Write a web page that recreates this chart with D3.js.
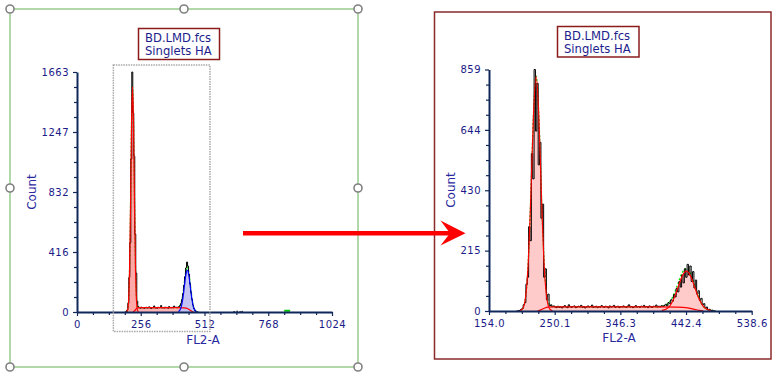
<!DOCTYPE html>
<html><head><meta charset="utf-8">
<script src="https://cdn.jsdelivr.net/npm/d3@7"></script>
<style>
html,body{margin:0;padding:0;background:#fff;}
svg{display:block;}
text{font-family:"DejaVu Sans",Verdana,sans-serif;}
</style></head>
<body>
<svg id="chart" width="781" height="379"></svg>
<script>
// ---------------- DATA ----------------
const titleLines = ["BD.LMD.fcs", "Singlets HA"];
const xTitle = "FL2-A";
const yTitle = "Count";

// Left panel (full range, 4-channel bins)
const leftXDomain = [0, 1024];
const leftYDomain = [0, 1663];
const leftXTicks = [0, 256, 512, 768, 1024];
const leftXLabels = ["0", "256", "512", "768", "1024"];
const leftYTicks = [0, 415.75, 831.5, 1247.25, 1663];
const leftYLabels = ["0", "416", "832", "1247", "1663"];
const leftBinStart = 192, leftBinWidth = 4;
const leftCounts = [0,3,14,60,240,480,1060,1663,1380,1080,540,270,75,38,
  30,26,34,28,31,25,29,33,27,30,36,28,24,31,29,42,27,30,26,33,29,31,45,28,30,27,34,29,32,26,38,30,28,33,29,41,31,34,30,33,
  38,44,60,88,128,185,245,305,346,318,262,195,135,88,48,24,12,5,2,0];
const debrisChannel = [628, 640, 652, 660];
const debrisCount = [7, 9, 6, 8];
const debrisFitChannel = [832, 840, 848, 856];
const debrisFitCount = [8, 9, 9, 8];
// left fitted components (channel, count)
const leftG1X = [199,203,207,211,215,219,223,227,231,235,239,243,247];
const leftG1Y = [2,12,75,290,740,1300,1560,1300,740,290,75,12,2];
const leftSX = [225,232,240,250,300,350,400,430,445,455,462,468];
const leftSY = [0,10,26,30,30,30,30,28,22,12,4,0];
const leftG2X = [407,413,419,425,431,437,443,449,455,461,467,473,479];
const leftG2Y = [3,13,39,94,176,256,290,256,176,94,39,13,3];
const leftTotX = [199,203,207,211,215,219,223,227,231,235,239,243,247,260,300,350,400,407,413,419,425,431,437,443,449,455,461,467,473,479,485];
const leftTotY = [2,12,75,290,740,1300,1560,1302,750,304,99,40,30,30,30,30,31,33,43,68,122,204,282,312,274,188,100,40,13,3,0];

// Right panel (zoomed range, 2-channel bins)
const rightXDomain = [154.0, 538.6];
const rightYDomain = [0, 859];
const rightXTicks = [154.0, 250.15, 346.3, 442.45, 538.6];
const rightXLabels = ["154.0", "250.1", "346.3", "442.4", "538.6"];
const rightYTicks = [0, 214.75, 429.5, 644.25, 859];
const rightYLabels = ["0", "215", "430", "644", "859"];
const rightBinStart = 194, rightBinWidth = 2;
const rightCounts = [0,1,2,5,9,
  22,30,95,120,300,250,560,470,859,640,810,520,600,330,380,120,150,40,60,18,22,
  16,18,14,12,
  17,13,15,11,16,19,14,12,22,15,13,16,18,12,14,17,15,20,13,16,11,15,18,14,16,21,13,15,17,12,16,14,19,15,13,17,15,11,18,14,
  16,20,13,15,17,12,16,14,18,15,13,17,22,14,16,12,15,19,14,16,13,17,15,20,14,16,12,18,15,13,17,16,21,14,17,15,19,16,
  20,24,18,30,26,40,35,58,50,80,68,105,85,128,100,150,120,166,128,160,105,140,82,110,60,72,38,45,22,26,10,14,4,6,1,3,0,0];
const rightG1X = [199,203,207,211,215,219,223,227,231,235,239,243,247];
const rightG1Y = [1,7,40,152,392,691,835,691,392,152,40,7,1];
const rightSX = [225,230,235,240,250,300,350,400,430,445,455,462,468];
const rightSY = [0,4,10,14,15,15,15,15,14,11,6,2,0];
const rightG2X = [407,413,419,425,431,437,443,449,455,461,467,473,479];
const rightG2Y = [2,6,19,46,86,125,142,125,86,46,19,6,2];
const rightTotX = [199,203,207,211,215,219,223,227,231,235,239,243,247,260,300,350,400,407,413,419,425,431,437,443,449,455,461,467,473,479,485];
const rightTotY = [1,7,40,152,392,691,835,692,398,162,53,22,16,15,15,15,15,17,21,34,61,100,137,152,133,92,49,19,6,2,0];

// ---------------- DRAWING ----------------
const svg = d3.select("#chart");
const NAVY = "#10275a", TICKTXT = "#1a1a88", TITLETXT = "#2a2aa0";

function zip(xs, ys){ return xs.map((x,i)=>({x, y: ys[i]})); }
function bins(start, w, counts){
  const pts = counts.map((c,i)=>({x: start + i*w, y: c}));
  pts.push({x: start + counts.length*w, y: counts[counts.length-1]});
  return pts;
}

function drawPanel(o){
  const g = svg.append("g");
  const x = d3.scaleLinear().domain(o.xDomain).range(o.xRange);
  const y = d3.scaleLinear().domain(o.yDomain).range(o.yRange);
  const clipId = "clip" + o.id;
  svg.append("clipPath").attr("id", clipId).append("rect")
    .attr("x", o.xRange[0]).attr("y", o.yRange[1] - 6)
    .attr("width", o.xRange[1]-o.xRange[0]).attr("height", o.yRange[0]-o.yRange[1]+6);
  const plot = g.append("g").attr("clip-path", `url(#${clipId})`);

  const area = d3.area().x(d=>x(d.x)).y0(y(0)).y1(d=>y(d.y)).curve(d3.curveMonotoneX);
  const line = d3.line().x(d=>x(d.x)).y(d=>y(d.y)).curve(d3.curveMonotoneX);
  const step = d3.line().x(d=>x(d.x)).y(d=>y(d.y)).curve(d3.curveStepAfter);

  // fills
  plot.append("path").datum(o.S).attr("d", area).attr("fill", o.sFill);
  plot.append("path").datum(o.G1).attr("d", area).attr("fill", o.g1Fill);
  plot.append("path").datum(o.G2).attr("d", area).attr("fill", o.g2Fill);
  // total fit (green), mostly hidden under data and component lines
  plot.append("path").datum(o.Tot).attr("d", line).attr("fill","none")
    .attr("stroke","#00dd00").attr("stroke-width",1.3).attr("stroke-dasharray","2,2");
  // data histogram
  plot.append("path").datum(o.hist).attr("d", step).attr("fill","none")
    .attr("stroke","#000").attr("stroke-width",1);
  if (o.debris) {
    o.debris.forEach(d=>{
      plot.append("rect").attr("x", x(d.x)).attr("width", 1.5)
        .attr("y", y(d.y)).attr("height", y(0)-y(d.y)).attr("fill","#222");
    });
  }
  if (o.debrisFit) {
    plot.append("path").datum(o.debrisFit).attr("d", line).attr("fill","#00cc00")
      .attr("stroke","#00cc00").attr("stroke-width",2);
  }
  // component outlines
  plot.append("path").datum(o.S).attr("d", line).attr("fill","none").attr("stroke","#ff0000").attr("stroke-width",1.2);
  plot.append("path").datum(o.G1).attr("d", line).attr("fill","none").attr("stroke","#ff0000").attr("stroke-width",1.2);
  plot.append("path").datum(o.G2).attr("d", line).attr("fill","none").attr("stroke",o.g2Stroke).attr("stroke-width",1.2);

  // axes
  const ax = g.append("g").attr("transform", `translate(0,${o.yRange[0]})`)
    .call(d3.axisBottom(x).tickValues(o.xTicks).tickFormat((d,i)=>o.xLabels[i]).tickSize(4).tickSizeOuter(0).tickPadding(5));
  const axm = g.append("g").attr("transform", `translate(0,${o.yRange[0]})`)
    .call(d3.axisBottom(x).tickValues(o.xMinor).tickFormat("").tickSize(3).tickSizeOuter(0));
  axm.select(".domain").remove();
  const ay = g.append("g").attr("transform", `translate(${o.xRange[0]},0)`)
    .call(d3.axisLeft(y).tickValues(o.yTicks).tickFormat((d,i)=>o.yLabels[i]).tickSize(4).tickSizeOuter(0).tickPadding(4));
  const aym = g.append("g").attr("transform", `translate(${o.xRange[0]},0)`)
    .call(d3.axisLeft(y).tickValues(o.yMinor).tickFormat("").tickSize(3).tickSizeOuter(0));
  aym.select(".domain").remove();
  [ax, ay].forEach(a=>{
    a.select(".domain").attr("stroke", NAVY).attr("stroke-width", 2);
    a.selectAll("text").attr("fill", TICKTXT).style("font-size","10px").style("letter-spacing","0.5px")
      .style("font-family","'DejaVu Sans',Verdana,sans-serif");
  });
  [ax, ay, axm, aym].forEach(a=> a.selectAll(".tick line").attr("stroke", NAVY).attr("stroke-width",1.2));

  // axis titles
  g.append("text").attr("x", o.xTitlePos[0]).attr("y", o.xTitlePos[1]).attr("text-anchor","middle")
    .attr("fill", TITLETXT).style("font-size","12px").text(xTitle);
  g.append("text").attr("transform", `translate(${o.yTitlePos[0]},${o.yTitlePos[1]}) rotate(-90)`)
    .attr("text-anchor","middle").attr("fill", TITLETXT).style("font-size","12px").text(yTitle);

  // title box
  g.append("rect").attr("x", o.box[0]).attr("y", o.box[1]).attr("width", o.box[2]).attr("height", o.box[3])
    .attr("fill","#fff").attr("stroke","#8b1c1c").attr("stroke-width",1.5);
  titleLines.forEach((t,i)=>{
    g.append("text").attr("x", o.box[0]+6.5).attr("y", o.box[1]+13.5+i*13.2)
      .attr("fill","#1e1e8c").style("font-size","11.6px").text(t);
  });
  return {x, y};
}

// left frame (selection with handles)
svg.append("rect").attr("x",10).attr("y",9).attr("width",348).attr("height",358)
  .attr("fill","none").attr("stroke","#b0d8a8").attr("stroke-width",2);

// right frame
svg.append("rect").attr("x",434.5).attr("y",12).attr("width",336.5).attr("height",347)
  .attr("fill","none").attr("stroke","#8b2a2a").attr("stroke-width",1.5);

const L = drawPanel({
  id: "L",
  xDomain: leftXDomain, yDomain: leftYDomain,
  xRange: [77, 332], yRange: [312, 72],
  xTicks: leftXTicks, xLabels: leftXLabels,
  yTicks: leftYTicks, yLabels: leftYLabels,
  xMinor: d3.range(64, 1024, 64).filter(v=>v%256!==0),
  yMinor: d3.range(1,16).filter(k=>k%4!==0).map(k=>k*1663/16),
  hist: bins(leftBinStart, leftBinWidth, leftCounts),
  debris: zip(debrisChannel, debrisCount),
  debrisFit: zip(debrisFitChannel, debrisFitCount),
  G1: zip(leftG1X, leftG1Y), S: zip(leftSX, leftSY), G2: zip(leftG2X, leftG2Y), Tot: zip(leftTotX, leftTotY),
  sFill: "#ffb4b4", g1Fill: "#ffa8a8", g2Fill: "#c4c4f4", g2Stroke: "#0000ff",
  xTitlePos: [203, 343.5], yTitlePos: [35.5, 192],
  box: [138.5, 28.5, 81, 31]
});

// gate rectangle (dotted) on left plot
svg.append("rect").attr("x", L.x(146)).attr("y", 65).attr("width", L.x(534)-L.x(146)).attr("height", 266.5)
  .attr("fill","none").attr("stroke","#a8a8a8").attr("stroke-width",1.5).attr("stroke-dasharray","1.5,1");

drawPanel({
  id: "R",
  xDomain: rightXDomain, yDomain: rightYDomain,
  xRange: [489, 751.7], yRange: [311, 69.5],
  xTicks: rightXTicks, xLabels: rightXLabels,
  yTicks: rightYTicks, yLabels: rightYLabels,
  xMinor: d3.range(1,16).filter(k=>k%4!==0).map(k=>154 + k*384.6/16),
  yMinor: d3.range(1,16).filter(k=>k%4!==0).map(k=>k*859/16),
  hist: bins(rightBinStart, rightBinWidth, rightCounts),
  G1: zip(rightG1X, rightG1Y), S: zip(rightSX, rightSY), G2: zip(rightG2X, rightG2Y), Tot: zip(rightTotX, rightTotY),
  sFill: "#ffcaca", g1Fill: "#ffcaca", g2Fill: "#ffcaca", g2Stroke: "#ff0000",
  xTitlePos: [619, 342], yTitlePos: [455, 190],
  box: [557.5, 26.5, 81.5, 30.5]
});

// handles
const hx = [10, 184, 358], hy = [9, 188, 367];
hy.forEach((yy,j)=> hx.forEach((xx,i)=>{
  if (i===1 && j===1) return;
  svg.append("circle").attr("cx",xx).attr("cy",yy).attr("r",4)
    .attr("fill","#fff").attr("stroke","#808080").attr("stroke-width",1.6);
}));

// arrow
svg.append("line").attr("x1",243).attr("y1",233.3).attr("x2",452).attr("y2",233.3)
  .attr("stroke","#ff0000").attr("stroke-width",4.6);
svg.append("path").attr("d","M440.5,220.5 L465.5,233.3 L440.5,245.5 L450,233.3 Z").attr("fill","#ff0000");
</script>
</body></html>
